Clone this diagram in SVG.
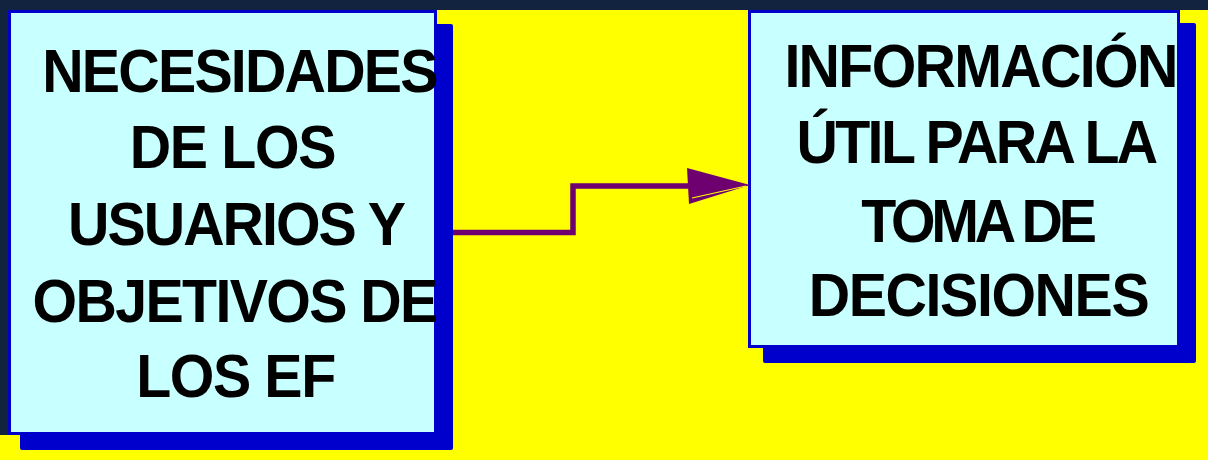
<svg xmlns="http://www.w3.org/2000/svg" width="1208" height="460" viewBox="0 0 1208 460">
<style>
.shadow{fill:#0000cc}
.box{fill:#c8ffff;stroke:#0000cc;stroke-width:3}
.lbl{font-family:"Liberation Sans",Arial,sans-serif;font-weight:bold;font-size:61px;fill:#000;text-anchor:middle}
.conn{fill:none;stroke:#6f006f;stroke-width:5.5}
</style>
<rect x="0" y="0" width="1208" height="460" fill="#ffff00"/>
<rect x="0" y="0" width="1208" height="10" fill="#12233f"/>
<rect x="0" y="0" width="8" height="435" fill="#12233f"/>
<g id="node-necesidades">
<rect class="shadow" x="20" y="24" width="433" height="426" rx="2"/>
<rect class="box" x="9.5" y="11.5" width="426" height="422"/>
<text class="lbl" transform="translate(239.5,92) scale(0.94,1)" letter-spacing="-1.9">NECESIDADES</text>
<text class="lbl" transform="translate(232.5,168) scale(0.94,1)" letter-spacing="-1.4">DE LOS</text>
<text class="lbl" transform="translate(236,245) scale(0.94,1)" letter-spacing="-2.1">USUARIOS Y</text>
<text class="lbl" transform="translate(234.5,322) scale(0.94,1)" letter-spacing="-1.75">OBJETIVOS DE</text>
<text class="lbl" transform="translate(235.5,397) scale(0.94,1)" letter-spacing="-1.5">LOS EF</text>
</g>
<g id="node-informacion">
<rect class="shadow" x="763" y="23" width="433" height="340" rx="2"/>
<rect class="box" x="749.5" y="11.5" width="429" height="335"/>
<text class="lbl" transform="translate(980.5,87) scale(0.94,1)" letter-spacing="-1.8">INFORMACIÓN</text>
<text class="lbl" transform="translate(976,163) scale(0.94,1)" letter-spacing="-2.8">ÚTIL PARA LA</text>
<text class="lbl" transform="translate(977,242) scale(0.94,1)" letter-spacing="-4.5">TOMA DE</text>
<text class="lbl" transform="translate(978.5,316) scale(0.94,1)" letter-spacing="-1.5">DECISIONES</text>
</g>
<g id="connectors">
<path class="conn" d="M453,232.5 H573 V186 H690"/>
<polygon points="687,168 750,185 689,204" fill="#6f006f"/>
<line x1="692" y1="198" x2="746" y2="186" stroke="#ffff00" stroke-width="1.2"/>
</g>
</svg>
